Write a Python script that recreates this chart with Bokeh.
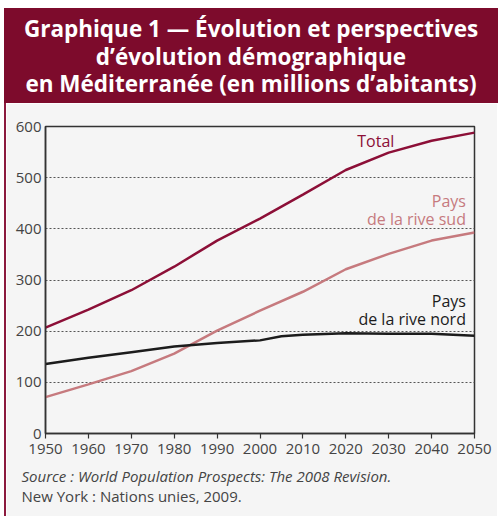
from bokeh.plotting import figure
from bokeh.models import Div, FixedTicker, Title
from bokeh.layouts import column, row
from bokeh.core.properties import value
from bokeh.embed import file_html
from bokeh.resources import INLINE

# ---- data (millions of inhabitants) ----
years = [1950, 1960, 1970, 1980, 1990, 2000, 2010, 2020, 2030, 2040, 2050]
total = [207, 242, 280, 326, 377, 420, 467, 515, 549, 572, 588]
south = [71, 96, 122, 156, 201, 240, 277, 321, 351, 377, 393]
years_north = [1950, 1960, 1970, 1980, 1990, 2000, 2005, 2010, 2020, 2030, 2040, 2050]
north = [136, 148, 159, 170, 177, 182, 190, 193, 196, 195, 195, 191]
y_ticks = [0, 100, 200, 300, 400, 500, 600]
x_ticks = [1950, 1960, 1970, 1980, 1990, 2000, 2010, 2020, 2030, 2040, 2050]

title_lines = ["Graphique 1 — Évolution et perspectives",
               "d’évolution démographique",
               "en Méditerranée (en millions d’abitants)"]
source_lines = ["Source : World Population Prospects: The 2008 Revision.",
                "New York : Nations unies, 2009."]

RED = "#7d0b2c"
TOTAL_C = "#8c0f37"
SOUTH_C = "#c67a7e"
NORTH_C = "#1c1c1c"
BG = "#f5f5f5"
FONT = "Open Sans"

title = Div(
    text='<div style="color:white;font-family:\'Open Sans\';font-weight:bold;font-size:22.5px;'
         'line-height:27.5px;text-align:center;padding-top:7px;width:494px;">'
         + "<br>".join(title_lines) + "</div>",
    width=494, height=95, margin=(8, 0, 0, 4),
    styles={"background-color": RED, "padding": "0"},
)

side = Div(text="", width=2, height=413, margin=(0, 0, 0, 4),
           styles={"background-color": "#8c1a3e"})

p = figure(width=491, height=413, output_backend="svg", toolbar_location=None,
           x_range=(1950, 2050), y_range=(0, 600), margin=0,
           min_border_left=39, min_border_right=23, min_border_top=23, min_border_bottom=83)
p.background_fill_color = BG
p.border_fill_color = BG
p.outline_line_color = "#333333"
p.outline_line_width = 1.5

p.line(years, total, line_color=TOTAL_C, line_width=2.5)
p.line(years, south, line_color=SOUTH_C, line_width=2.5)
p.line(years_north, north, line_color=NORTH_C, line_width=2.5)

# axes
for ax in (p.xaxis[0], p.yaxis[0]):
    ax.axis_line_color = "#333333"
    ax.axis_line_width = 1.5
    ax.major_label_text_font = FONT
    ax.major_label_text_font_size = "15px"
    ax.major_label_text_color = "#444444"
    ax.minor_tick_line_color = None
    ax.major_tick_line_color = "#333333"
    ax.major_tick_line_width = 1.2

p.xaxis.ticker = FixedTicker(ticks=x_ticks)
p.xaxis.major_tick_in = 0
p.xaxis.major_tick_out = 5
p.xaxis.major_label_standoff = 5
p.yaxis.ticker = FixedTicker(ticks=y_ticks)
p.yaxis.major_tick_in = 0
p.yaxis.major_tick_out = 0
p.yaxis.major_label_standoff = 4

p.xgrid.grid_line_color = None
p.ygrid.ticker = FixedTicker(ticks=[100, 200, 300, 400, 500])
p.ygrid.grid_line_color = "#555555"
p.ygrid.grid_line_dash = "2 2"
p.ygrid.grid_line_width = 1

# series labels
lab = dict(text_font=value(FONT), text_font_size="16px", text_baseline="middle")
p.text(x=[2027], y=[572], text=["Total"], text_color=TOTAL_C, text_align="center", **lab)
p.text(x=[2048, 2048], y=[455, 420], text=["Pays", "de la rive sud"], text_color=SOUTH_C,
       text_align="right", **lab)
p.text(x=[2048, 2048], y=[258, 223], text=["Pays", "de la rive nord"], text_color=NORTH_C,
       text_align="right", **lab)

# source, in the panel below the x axis
p.add_layout(Title(text=source_lines[0], align="left", offset=-24, standoff=15,
                   text_font=FONT, text_font_style="italic", text_font_size="15px",
                   text_color="#444444"), "below")
p.add_layout(Title(text=source_lines[1], align="left", offset=-24, standoff=-20,
                   text_font=FONT, text_font_style="normal", text_font_size="15px",
                   text_color="#444444"), "below")

layout = column(title, row(side, p, spacing=0), spacing=0)
open("out.html", "w").write(file_html(layout, INLINE))
